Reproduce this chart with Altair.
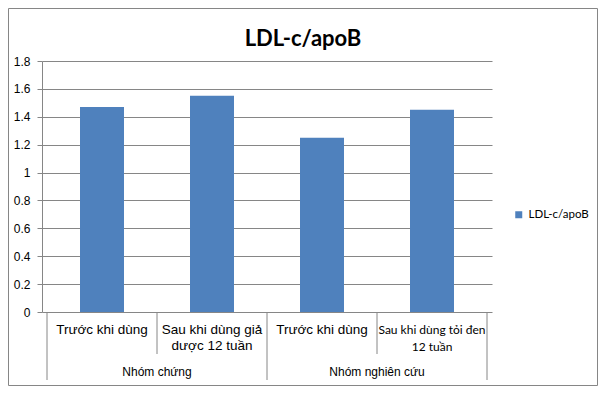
import altair as alt
import pandas as pd

# ---- data ----
chart_title = "LDL-c/apoB"
series_name = "LDL-c/apoB"
categories = ["Trước khi dùng", "Sau khi dùng giả\ndược 12 tuần",
              "Trước khi dùng", "Sau khi dùng tỏi đen\n12 tuần"]
groups = ["Nhóm chứng", "Nhóm chứng", "Nhóm nghiên cứu", "Nhóm nghiên cứu"]
values = [1.47, 1.55, 1.25, 1.45]
y_ticks = [0, 0.2, 0.4, 0.6, 0.8, 1, 1.2, 1.4, 1.6, 1.8]

n = len(categories)
df = pd.DataFrame({
    "idx": list(range(n)),
    "cat": categories,
    "group": groups,
    "value": values,
    "series": [series_name] * n,
})

# category edges (derived from the group list)
edges = pd.DataFrame({
    "pos": list(range(n + 1)),
    "full": [i == 0 or i == n or groups[i] != groups[i - 1] for i in range(n + 1)],
})

GRAY = "#868686"
BLUE = "#4F81BD"
W, H = 450, 251

xscale = alt.Scale(domain=[0, n], nice=False, zero=False)
yscale = alt.Scale(domain=[0, 1.8], nice=False)

base = alt.Chart(df).transform_calculate(center="datum.idx + 0.5")

bars = base.mark_bar(size=44).encode(
    x=alt.X("center:Q", scale=xscale, axis=None),
    y=alt.Y("value:Q", scale=yscale, title=None,
            axis=alt.Axis(values=y_ticks, format="~g", grid=True, gridColor=GRAY,
                          domainColor=GRAY, tickColor=GRAY, tickSize=5,
                          labelFont="Liberation Sans", labelFontSize=12,
                          labelColor="#000000", labelPadding=7)),
    color=alt.Color("series:N", scale=alt.Scale(range=[BLUE]),
                    legend=alt.Legend(title=None, orient="none", legendX=471, legendY=148,
                                      symbolType="square", symbolSize=49,
                                      symbolStrokeWidth=0, labelFont="Lato",
                                      labelFontSize=11.5, labelColor="#000000",
                                      labelOffset=4, padding=0)),
)

full_rules = alt.Chart(edges).transform_filter("datum.full").mark_rule(color=GRAY).encode(
    x=alt.X("pos:Q", scale=xscale, axis=None),
    y=alt.value(251), y2=alt.value(319),
)
short_rules = alt.Chart(edges).transform_filter("!datum.full").mark_rule(color=GRAY).encode(
    x=alt.X("pos:Q", scale=xscale, axis=None),
    y=alt.value(251), y2=alt.value(293),
)

cat_labels = base.transform_filter("datum.idx < 3").mark_text(
    font="Liberation Sans", fontSize=13.5, baseline="top", lineBreak="\n",
    lineHeight=16, color="#000000"
).encode(x=alt.X("center:Q", scale=xscale, axis=None), y=alt.value(262), text="cat:N")

cat_labels_small = base.transform_filter("datum.idx >= 3").mark_text(
    font="Lato", fontSize=12, baseline="top", lineBreak="\n",
    lineHeight=17, color="#000000"
).encode(x=alt.X("center:Q", scale=xscale, axis=None), y=alt.value(264), text="cat:N")

group_labels = alt.Chart(df).transform_aggregate(
    gmin="min(idx)", gmax="max(idx)", groupby=["group"]
).transform_calculate(gc="(datum.gmin + datum.gmax + 1) / 2").mark_text(
    font="Liberation Sans", fontSize=12, baseline="middle", color="#000000"
).encode(x=alt.X("gc:Q", scale=xscale, axis=None), y=alt.value(311), text="group:N")

title_text = alt.Chart(pd.DataFrame({"t": [chart_title]})).mark_text(
    font="Lato", fontSize=22, fontWeight="bold", baseline="alphabetic", align="center",
    color="#000000"
).encode(x=alt.value(261), y=alt.value(-15.5), text="t:N")

border = alt.Chart(pd.DataFrame({"a": [0]})).mark_rect(
    fillOpacity=0, stroke=GRAY, strokeWidth=1
).encode(x=alt.value(-33.5), x2=alt.value(555.5), y=alt.value(-52.5), y2=alt.value(324.5))

chart = alt.layer(
    border, bars, full_rules, short_rules, cat_labels, cat_labels_small,
    group_labels, title_text
).properties(
    width=W, height=H,
    autosize=alt.AutoSizeParams(type="none"),
    padding={"left": 34, "top": 53, "right": 106, "bottom": 74},
).configure_view(stroke=None)

chart.save("out.html", embed_options={"renderer": "svg", "actions": False})
